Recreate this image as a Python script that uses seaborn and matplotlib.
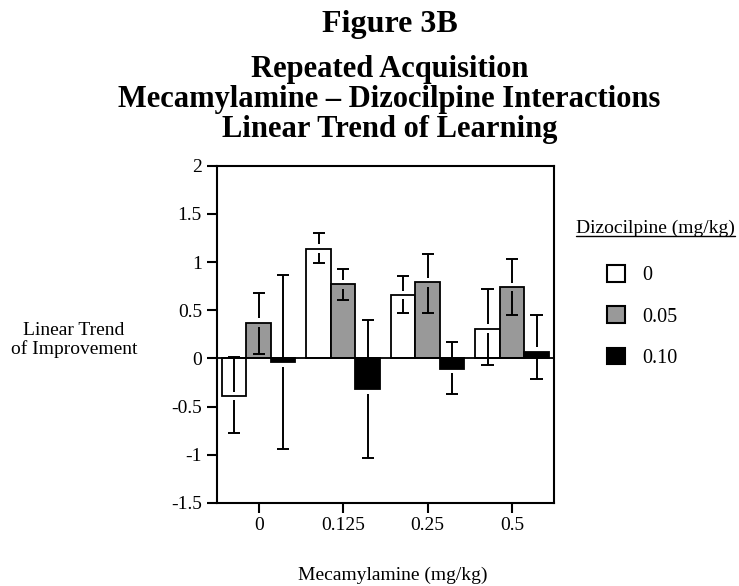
import matplotlib
matplotlib.use("Agg")
import matplotlib.pyplot as plt
import seaborn as sns
import pandas as pd
import numpy as np
from matplotlib.patches import Patch
from matplotlib.lines import Line2D

# ---- data ----
mecamylamine = ["0", "0.125", "0.25", "0.5"]
dizocilpine = ["0", "0.05", "0.10"]
vals_0 = [-0.39, 1.14, 0.66, 0.31]
vals_005 = [0.37, 0.77, 0.79, 0.74]
vals_010 = [-0.04, -0.32, -0.11, 0.07]
hi_0 = [0.01, 1.30, 0.86, 0.72]
lo_0 = [-0.77, 0.99, 0.47, -0.07]
hi_005 = [0.68, 0.93, 1.08, 1.03]
lo_005 = [0.05, 0.61, 0.47, 0.45]
hi_010 = [0.87, 0.40, 0.17, 0.45]
lo_010 = [-0.94, -1.03, -0.37, -0.21]
yticks = [-1.5, -1, -0.5, 0, 0.5, 1, 1.5, 2]

series = {"0": (vals_0, lo_0, hi_0),
          "0.05": (vals_005, lo_005, hi_005),
          "0.10": (vals_010, lo_010, hi_010)}
colors = {"0": "#ffffff", "0.05": "#999999", "0.10": "#000000"}

rows = []
for d in dizocilpine:
    v, lo, hi = series[d]
    for m, val in zip(mecamylamine, v):
        rows.append({"Mecamylamine": m, "Dizocilpine": d, "value": val})
df = pd.DataFrame(rows)

sns.set_style("white")
plt.rcParams["font.family"] = ["Liberation Serif", "DejaVu Serif"]
plt.rcParams["axes.unicode_minus"] = False
plt.rcParams["text.color"] = "black"

fig = plt.figure(figsize=(7.39, 5.86), dpi=100)
ax = fig.add_axes([0.293, 0.142, 0.457, 0.575])

sns.barplot(data=df, x="Mecamylamine", y="value", hue="Dizocilpine",
            order=mecamylamine, hue_order=dizocilpine, palette=colors,
            edgecolor="black", linewidth=1.3, width=0.87, errorbar=None,
            legend=False, ax=ax)

gap = 0.045
cap = 0.072
for d, cont in zip(dizocilpine, ax.containers):
    v, lo, hi = series[d]
    for bar, val, l, h in zip(cont, v, lo, hi):
        xc = bar.get_x() + bar.get_width() / 2
        ax.vlines(xc, val + gap, h, color="black", lw=1.4, zorder=1.5)
        ax.vlines(xc, l, val - gap, color="black", lw=1.4, zorder=1.5)
        ax.hlines([h, l], xc - cap, xc + cap, color="black", lw=1.4,
                  zorder=1.5)

ax.axhline(0, color="black", lw=1.3, zorder=3)
ax.set_xlim(-0.5, 3.5)
ax.set_ylim(-1.5, 2)
ax.set_yticks(yticks)
ax.set_yticklabels(["%g" % t for t in yticks])
for s in ax.spines.values():
    s.set_color("black")
    s.set_linewidth(1.5)
ax.tick_params(axis="both", direction="out", length=7, width=1.5,
               labelsize=14, colors="black", left=True, bottom=True)
ax.set_xlabel("")
ax.set_ylabel("")

fig.text(0.532, 0.0102, "Mecamylamine (mg/kg)", ha="center", va="baseline",
         fontsize=14)
fig.text(0.1, 0.42, "Linear Trend\nof Improvement", ha="center",
         va="center", fontsize=14, linespacing=1.05)

fig.text(0.527, 0.946, "Figure 3B", ha="center", va="baseline",
         fontsize=23, fontweight="bold")
for txt, yb in zip(["Repeated Acquisition",
                    "Mecamylamine \u2013 Dizocilpine Interactions",
                    "Linear Trend of Learning"],
                   [0.869, 0.818, 0.767]):
    fig.text(0.527, yb, txt, ha="center", va="baseline", fontsize=22,
             fontweight="bold")

# legend
handles = [Patch(facecolor=colors[d], edgecolor="black", linewidth=1.5)
           for d in dizocilpine]
leg = fig.legend(handles, dizocilpine, loc="upper left",
                 bbox_to_anchor=(0.797, 0.579), frameon=False, fontsize=14.5,
                 handlelength=0.9, handleheight=0.9, labelspacing=1.05,
                 handletextpad=0.85)
ttl = fig.text(0.8875, 0.602, "Dizocilpine (mg/kg)", ha="center",
               va="baseline", fontsize=14)
fig.canvas.draw()
bb = ttl.get_window_extent().transformed(fig.transFigure.inverted())
fig.add_artist(Line2D([bb.x0, bb.x1], [0.602 - 0.004, 0.602 - 0.004],
                      color="black", lw=1.0, transform=fig.transFigure))

fig.savefig("out.png", dpi=100)
